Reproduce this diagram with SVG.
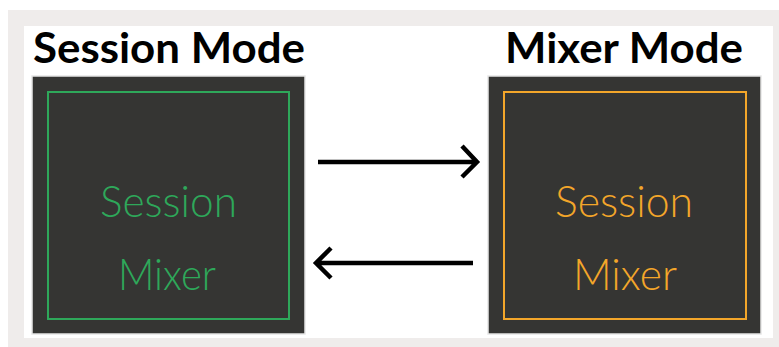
<svg xmlns="http://www.w3.org/2000/svg" width="779" height="347" viewBox="0 0 779 347">
<style>
.title{font-family:Lato,"Liberation Sans",sans-serif;font-weight:700;font-size:42px;fill:#000}
.lbl{font-family:Lato,"Liberation Sans",sans-serif;font-weight:300;font-size:44px}
.box{fill:#353533;stroke:#e6e6e6;stroke-width:1.5}
.g{fill:#2ea85a}
.o{fill:#f3a62a}
.conn{fill:none;stroke:#000;stroke-width:4.5;stroke-linecap:butt;stroke-linejoin:miter}
</style>
<rect x="0" y="0" width="779" height="347" fill="#ffffff"/>
<rect x="8" y="10" width="771" height="337" fill="#efeceb"/>
<rect x="24" y="26" width="749" height="312" fill="#ffffff"/>
<g id="session-mode">
<text class="title" x="33" y="63" textLength="272" lengthAdjust="spacingAndGlyphs">Session Mode</text>
<rect class="box" x="32" y="76" width="273" height="258"/>
<rect x="48" y="92" width="241" height="227" fill="none" stroke="#2ea85a" stroke-width="2"/>
<text class="lbl g" x="100" y="217" textLength="137" lengthAdjust="spacingAndGlyphs">Session</text>
<text class="lbl g" x="118" y="290" textLength="98" lengthAdjust="spacingAndGlyphs">Mixer</text>
</g>
<g id="mixer-mode">
<text class="title" x="505" y="63" textLength="238" lengthAdjust="spacingAndGlyphs">Mixer Mode</text>
<rect class="box" x="488" y="76" width="273" height="258"/>
<rect x="504" y="92" width="242" height="227" fill="none" stroke="#f3a62a" stroke-width="2"/>
<text class="lbl o" x="555" y="217" textLength="138" lengthAdjust="spacingAndGlyphs">Session</text>
<text class="lbl o" x="573" y="290" textLength="104" lengthAdjust="spacingAndGlyphs">Mixer</text>
</g>
<g id="connectors">
<path class="conn" d="M318 162H476M462 146L477 162L462 177"/>
<path class="conn" d="M473 263H316M331 248L316 263L331 278"/>
</g>
</svg>
